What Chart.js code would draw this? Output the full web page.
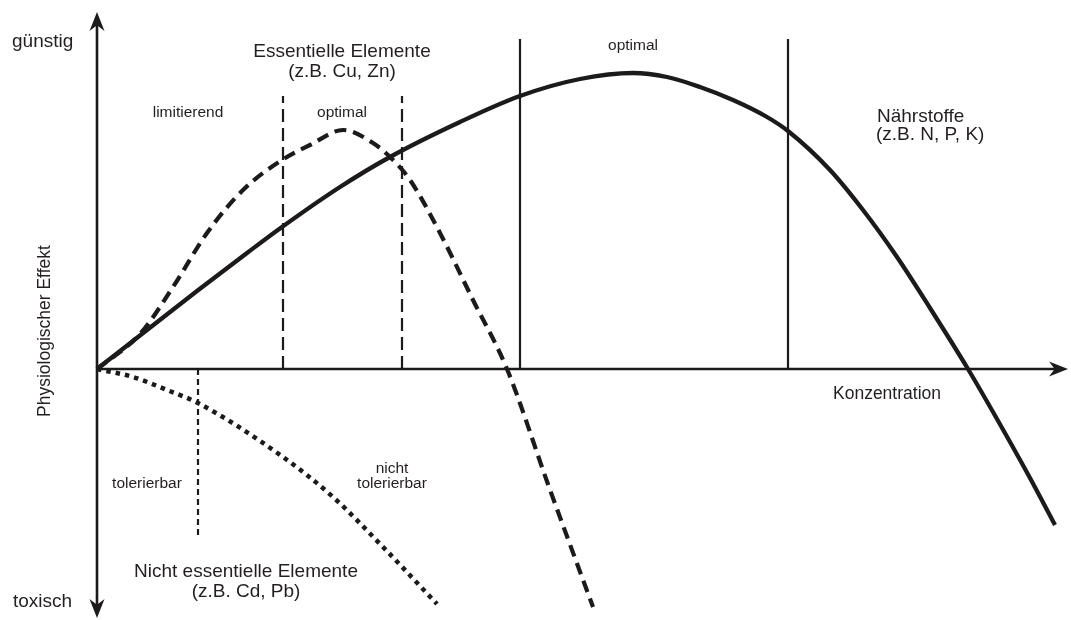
<!DOCTYPE html>
<html>
<head>
<meta charset="utf-8">
<title>Physiologischer Effekt</title>
<script src="https://cdn.jsdelivr.net/npm/chart.js@4/dist/chart.umd.min.js"></script>
<style>
  html, body { margin: 0; padding: 0; background: #fff; }
  #wrap { width: 1071px; height: 620px; }
</style>
</head>
<body>
<div id="wrap"><canvas id="chart" width="1071" height="620"></canvas></div>
<script>
/* ── Curves (concentration → physiological effect) ── */
const nutrientX  = [0, 0.50, 1.00, 1.50, 1.85, 2.43, 2.93, 3.63, 4.23, 4.83, 5.36, 5.70, 6.03, 6.36, 6.70, 6.91, 7.33, 7.66, 8.00, 8.33, 8.71, 9.00, 9.33, 9.58];
const nutrientY  = [0, 0.39, 0.78, 1.16, 1.42, 1.82, 2.12, 2.47, 2.73, 2.90, 2.96, 2.92, 2.82, 2.69, 2.52, 2.38, 1.99, 1.59, 1.12, 0.61, 0, -0.50, -1.09, -1.56];

const essentialX = [0, 0.43, 0.76, 1.10, 1.46, 1.85, 2.13, 2.46, 2.76, 2.93, 3.13, 3.43, 3.76, 4.10, 4.52, 4.96];
const essentialY = [0, 0.35, 0.82, 1.36, 1.79, 2.09, 2.24, 2.39, 2.26, 2.12, 1.89, 1.36, 0.69, 0, -1.18, -2.38];

const nonEssX    = [0, 0.36, 0.70, 1.01, 1.86, 2.36, 2.86, 3.40];
const nonEssY    = [0, -0.08, -0.21, -0.34, -0.88, -1.28, -1.78, -2.35];

/* ── Range boundaries ── */
const essentialBounds = [1.86, 3.05];
const essentialTop    = 2.73;
const nutrientBounds  = [4.23, 6.91];
const nutrientTop     = 3.30;
const toleranceBound  = [1.01];
const toleranceBottom = -1.68;

/* ── Axis extents ── */
const axisXEnd = 9.71;
const axisYTop = 3.57;
const axisYBot = -2.49;

/* ── Labels: text, x, y, size, align, rotate ── */
const labels = [
  ['günstig',                     -0.85,  3.22, 19,   'left'],
  ['toxisch',                     -0.84, -2.38, 19,   'left'],
  ['Essentielle Elemente',         2.45,  3.12, 19,   'center'],
  ['(z.B. Cu, Zn)',                2.45,  2.92, 19,   'center'],
  ['limitierend',                  0.91,  2.52, 15.5, 'center'],
  ['optimal',                      2.45,  2.52, 15.5, 'center'],
  ['optimal',                      5.36,  3.19, 15.5, 'center'],
  ['Nährstoffe',                   7.80,  2.47, 19,   'left'],
  ['(z.B. N, P, K)',               7.79,  2.29, 19,   'left'],
  ['Konzentration',                7.36, -0.30, 17.5, 'left'],
  ['tolerierbar',                  0.50, -1.19, 15.5, 'center'],
  ['nicht',                        2.95, -1.04, 15.5, 'center'],
  ['tolerierbar',                  2.95, -1.19, 15.5, 'center'],
  ['Nicht essentielle Elemente',   1.49, -2.08, 19,   'center'],
  ['(z.B. Cd, Pb)',                1.49, -2.28, 19,   'center'],
  ['Physiologischer Effekt',      -0.47, -0.48, 17.5, 'left', true],
];

const INK  = '#1c1a1b';
const FONT = '"Liberation Sans", Arial, sans-serif';

const pts = (xs, ys) => xs.map((x, i) => ({ x, y: ys[i] }));

function curve(xs, ys, width, dash) {
  return {
    data: pts(xs, ys),
    borderColor: INK, borderWidth: width, borderDash: dash,
    cubicInterpolationMode: 'monotone',
    pointRadius: 0, showLine: true, clip: false,
  };
}

function vLine(x, y0, y1, dash) {
  return {
    data: [{ x, y: y0 }, { x, y: y1 }],
    borderColor: INK, borderWidth: 2.2, borderDash: dash,
    pointRadius: 0, tension: 0, showLine: true, clip: false,
  };
}

const datasets = [
  curve(nutrientX, nutrientY, 4.3, []),
  curve(essentialX, essentialY, 4.2, [12, 7]),
  curve(nonEssX, nonEssY, 4.5, [4.5, 5]),
];
essentialBounds.forEach(x => datasets.push(vLine(x, 0, essentialTop, [13, 6])));
nutrientBounds.forEach(x => datasets.push(vLine(x, 0, nutrientTop, [])));
toleranceBound.forEach(x => datasets.push(vLine(x, 0, toleranceBottom, [6, 4])));

/* ── Axes with arrowheads + labels ── */
const schemePlugin = {
  id: 'scheme',
  beforeDatasetsDraw(chart) {
    const { ctx, scales: { x, y } } = chart;
    const ox = x.getPixelForValue(0), oy = y.getPixelForValue(0);
    const xe = x.getPixelForValue(axisXEnd);
    const yt = y.getPixelForValue(axisYTop), yb = y.getPixelForValue(axisYBot);
    ctx.save();
    ctx.strokeStyle = INK; ctx.fillStyle = INK; ctx.lineWidth = 2.6;
    ctx.beginPath();
    ctx.moveTo(ox, yt + 10); ctx.lineTo(ox, yb - 10);
    ctx.moveTo(ox, oy); ctx.lineTo(xe - 10, oy);
    ctx.stroke();
    const head = (tx, ty, dx, dy) => {
      const L = 19, W = 7.5;
      const bx = tx - dx * L, by = ty - dy * L;
      ctx.beginPath();
      ctx.moveTo(tx, ty);
      ctx.lineTo(bx - dy * W, by + dx * W);
      ctx.lineTo(tx - dx * L * 0.7, ty - dy * L * 0.7);
      ctx.lineTo(bx + dy * W, by - dx * W);
      ctx.closePath();
      ctx.fill();
    };
    head(ox, yt, 0, -1);
    head(ox, yb, 0, 1);
    head(xe, oy, 1, 0);
    ctx.restore();
  },
  afterDatasetsDraw(chart) {
    const { ctx, scales: { x, y } } = chart;
    ctx.save();
    ctx.fillStyle = '#231f20';
    ctx.textBaseline = 'alphabetic';
    labels.forEach(([text, lx, ly, size, align, rot]) => {
      ctx.font = size + 'px ' + FONT;
      ctx.textAlign = align;
      const px = x.getPixelForValue(lx), py = y.getPixelForValue(ly);
      if (rot) {
        ctx.save();
        ctx.translate(px, py);
        ctx.rotate(-Math.PI / 2);
        ctx.fillText(text, 0, 0);
        ctx.restore();
      } else {
        ctx.fillText(text, px, py);
      }
    });
    ctx.restore();
  }
};

new Chart(document.getElementById('chart'), {
  type: 'scatter',
  data: { datasets },
  options: {
    responsive: false,
    animation: false,
    layout: { padding: 0 },
    scales: {
      x: { type: 'linear', min: -0.97, max: 9.74, display: false },
      y: { type: 'linear', min: -2.51, max: 3.69, display: false },
    },
    plugins: { legend: { display: false }, tooltip: { enabled: false } },
  },
  plugins: [schemePlugin],
});
</script>
</body>
</html>
